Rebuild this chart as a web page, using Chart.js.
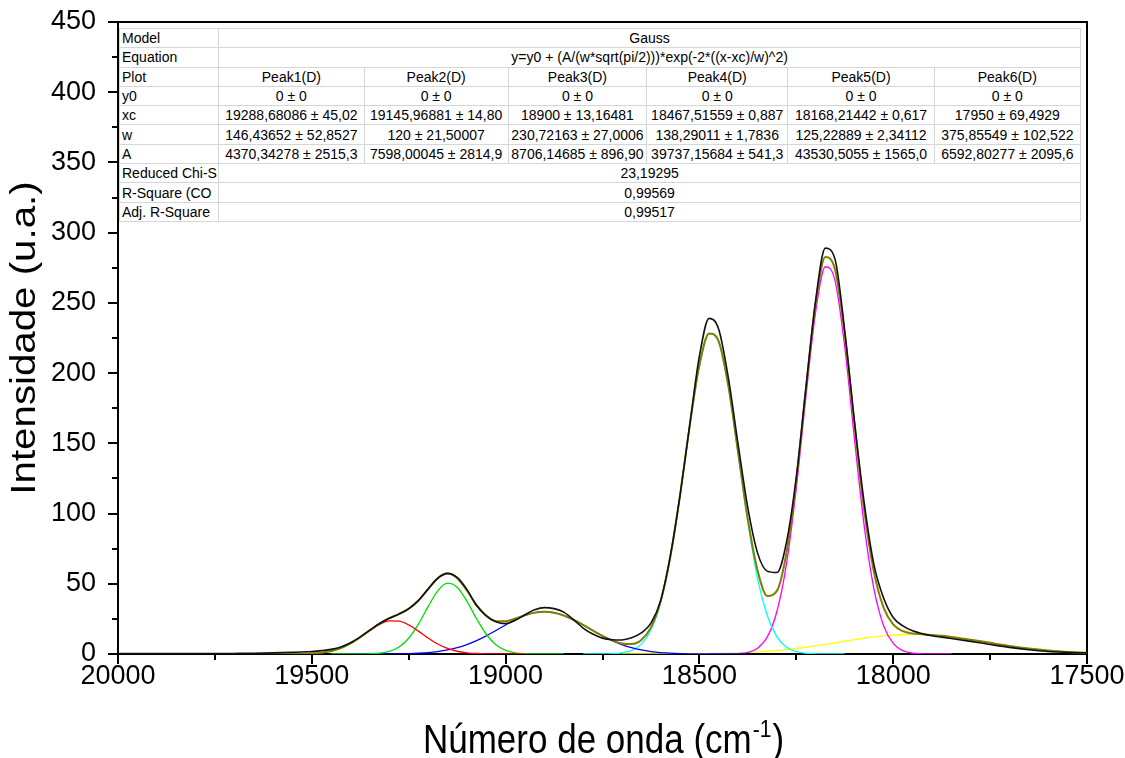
<!DOCTYPE html>
<html>
<head>
<meta charset="utf-8">
<script src="https://cdn.jsdelivr.net/npm/chart.js"></script>
<style>
  body { margin: 0; background: #fff; }
  #wrap { position: relative; width: 1125px; height: 758px; }
  #fitTable {
    position: absolute; left: 119px; top: 28px; width: 962px;
    border-collapse: collapse; table-layout: fixed; background: #fff;
    font: 14px "Liberation Sans", Arial, sans-serif; color: #000;
    border: 1px solid #707070;
  }
  #fitTable td {
    height: 18.3px; padding: 0 2px; line-height: 16px;
    border: 1px solid #d6d6d6; text-align: center;
    white-space: nowrap; overflow: hidden;
  }
  #fitTable td.lbl { text-align: left; }
</style>
</head>
<body>
<div id="wrap">
  <canvas id="gauss" width="1125" height="758"></canvas>
  <table id="fitTable">
    <colgroup>
      <col style="width:99px"><col style="width:145px"><col style="width:144px"><col style="width:138px">
      <col style="width:141px"><col style="width:146px"><col style="width:146px">
    </colgroup>
    <tbody></tbody>
  </table>
</div>
<script>
// eixo x (cm-1), mesma grade para todas as curvas
const wavenumber = [20000, 19900, 19800, 19700, 19650, 19600, 19550,
  19500, 19475, 19450, 19425, 19400, 19375, 19350, 19325, 19300, 19275,
  19250, 19225, 19200, 19175, 19150, 19125, 19100, 19075, 19050, 19025,
  19000, 18975, 18950, 18925, 18900, 18875, 18850, 18825, 18800, 18775,
  18750, 18725, 18700, 18675, 18650, 18625, 18600, 18575, 18550, 18525,
  18500, 18475, 18450, 18425, 18400, 18375, 18350, 18325, 18300, 18275,
  18250, 18225, 18200, 18175, 18150, 18125, 18100, 18075, 18050, 18025,
  18000, 17975, 17950, 17925, 17900, 17875, 17850,
  17800, 17750, 17700, 17650, 17600, 17550, 17500];

// dados experimentais (preto)
const dataExp = [0.3, 0.3, 0.3, 0.4, 0.5, 0.8, 1.2, 1.8, 2.4, 3.3,
  5.0, 8.0, 12.2, 17.0, 21.7, 25.4, 28.4, 32.2, 38.0, 46.2,
  54.0, 57.4, 54.5, 46.0, 34.5, 27.3, 23.0, 21.6, 24.0, 28.0,
  31.5, 33.0, 32.3, 29.8, 24.5, 18.5, 14.2, 11.3, 10.2, 10.0,
  11.5, 15.0, 22.0, 38.0, 70.0, 113.0, 163.0, 212.0, 239.0, 231.0,
  196.0, 149.0, 104.0, 72.0, 59.0, 58.0, 80.0, 126.0, 190.0, 252.0,
  289.0, 281.0, 230.0, 166.0, 108.0, 64.0, 40.0, 26.0, 20.0, 16.5,
  14.5, 13.0, 12.0, 11.0, 9.0, 6.8, 4.7, 3.0, 1.8, 1.2, 0.8];

// ajuste acumulado (oliva)
const fitCum = [0, 0, 0, 0, 0, 0, 0.04, 0.37, 0.94, 2.10,
  4.21, 7.51, 11.93, 16.94, 21.68, 25.47, 28.55, 32.25, 38.10, 46.13,
  53.83, 57.25, 53.97, 45.23, 34.97, 27.11, 23.40, 23.31, 25.24, 27.65,
  29.47, 30.12, 29.41, 27.41, 24.37, 20.68, 16.75, 12.98, 9.75, 7.50,
  7.04, 9.94, 18.92, 37.63, 69.13, 112.94, 162.58, 205.59, 228.24, 222.46,
  190.41, 143.42, 95.94, 59.63, 41.37, 44.93, 72.65, 123.70, 189.12, 249.73,
  282.59, 273.83, 227.65, 163.42, 102.80, 58.83, 33.22, 21.02, 16.25, 14.64,
  14.03, 13.54, 12.93, 12.15, 10.18, 7.95, 5.78, 3.92, 2.47, 1.45, 0.80];

// picos individuais (null = fora do trecho desenhado)
const peak1 = [null, null, null, null, 0, 0, 0.04, 0.37, 0.94, 2.10,
  4.21, 7.50, 11.89, 16.77, 21.06, 23.53, 23.40, 20.71, 16.31, 11.43,
  7.13, 3.96, 1.96, 0.86, 0.34, 0.12, 0.04, 0.01, 0, 0,
  null, null, null, null, null, null, null, null, null, null,
  null, null, null, null, null, null, null, null, null, null,
  null, null, null, null, null, null, null, null, null, null,
  null, null, null, null, null, null, null, null, null, null,
  null, null, null, null, null, null, null, null, null, null, null];

const peak2 = [null, null, null, null, null, null, null, null, null, 0,
  0, 0.01, 0.03, 0.16, 0.59, 1.87, 5.00, 11.24, 21.22, 33.68,
  44.94, 50.41, 47.52, 37.67, 25.10, 14.06, 6.62, 2.62, 0.87, 0.24,
  0.06, 0.01, 0, 0, null, null, null, null, null, null,
  null, null, null, null, null, null, null, null, null, null,
  null, null, null, null, null, null, null, null, null, null,
  null, null, null, null, null, null, null, null, null, null,
  null, null, null, null, null, null, null, null, null, null, null];

const peak3 = [null, null, null, null, null, null, null, null, null, null,
  null, 0, 0.01, 0.01, 0.03, 0.07, 0.15, 0.30, 0.57, 1.02,
  1.76, 2.88, 4.49, 6.70, 9.53, 12.93, 16.74, 20.68, 24.37, 27.41,
  29.41, 30.11, 29.41, 27.41, 24.37, 20.68, 16.74, 12.93, 9.53, 6.70,
  4.49, 2.88, 1.76, 1.02, 0.57, 0.30, 0.15, 0.07, 0.03, 0.01,
  0.01, 0, 0, null, null, null, null, null, null, null,
  null, null, null, null, null, null, null, null, null, null,
  null, null, null, null, null, null, null, null, null, null, null];

const peak4 = [null, null, null, null, null, null, null, null, null, null,
  null, null, null, null, null, null, null, null, null, null,
  null, null, null, null, null, null, null, null, null, null,
  null, null, null, null, null, 0, 0.01, 0.05, 0.22, 0.80,
  2.54, 7.05, 17.14, 36.57, 68.50, 112.55, 162.30, 205.33, 227.93, 222.03,
  189.77, 142.33, 93.66, 54.08, 27.40, 12.18, 4.75, 1.63, 0.49, 0.13,
  0.03, 0.01, 0, null, null, null, null, null, null, null,
  null, null, null, null, null, null, null, null, null, null, null];

const peak5 = [null, null, null, null, null, null, null, null, null, null,
  null, null, null, null, null, null, null, null, null, null,
  null, null, null, null, null, null, null, null, null, null,
  null, null, null, null, null, null, null, null, null, null,
  null, null, null, null, null, null, null, null, 0, 0.01,
  0.06, 0.29, 1.19, 4.10, 12.06, 30.28, 64.76, 118.15, 183.83, 243.82,
  275.72, 265.87, 218.58, 153.24, 91.58, 46.68, 20.29, 7.51, 2.37, 0.64,
  0.15, 0.03, 0, 0, null, null, null, null, null, null, null];

const peak6 = [null, null, null, null, null, null, null, null, null, null,
  null, null, null, null, null, null, null, null, null, null,
  null, null, null, null, null, null, null, null, null, null,
  null, null, null, null, null, null, null, null, null, 0,
  0.01, 0.01, 0.02, 0.04, 0.06, 0.09, 0.13, 0.19, 0.28, 0.41,
  0.57, 0.80, 1.09, 1.45, 1.91, 2.47, 3.14, 3.92, 4.80, 5.78,
  6.84, 7.95, 9.07, 10.18, 11.22, 12.15, 12.93, 13.51, 13.88, 14.00,
  13.88, 13.51, 12.93, 12.15, 10.18, 7.95, 5.78, 3.92, 2.47, 1.45, 0.80];

// ticks
const xMajor = [20000, 19500, 19000, 18500, 18000, 17500];
const xMinor = [19750, 19250, 18750, 18250, 17750];
const yMajor = [0, 50, 100, 150, 200, 250, 300, 350, 400, 450];
const yMinor = [25, 75, 125, 175, 225, 275, 325, 375, 425];

// tabela do ajuste
const peakNames = ['Peak1(D)', 'Peak2(D)', 'Peak3(D)', 'Peak4(D)', 'Peak5(D)', 'Peak6(D)'];
const y0Text = ['0 ± 0', '0 ± 0', '0 ± 0', '0 ± 0', '0 ± 0', '0 ± 0'];
const xcText = ['19288,68086 ± 45,02', '19145,96881 ± 14,80', '18900 ± 13,16481',
  '18467,51559 ± 0,887', '18168,21442 ± 0,617', '17950 ± 69,4929'];
const wText = ['146,43652 ± 52,8527', '120 ± 21,50007', '230,72163 ± 27,0006',
  '138,29011 ± 1,7836', '125,22889 ± 2,34112', '375,85549 ± 102,522'];
const aText = ['4370,34278 ± 2515,3', '7598,00045 ± 2814,9', '8706,14685 ± 896,90',
  '39737,15684 ± 541,3', '43530,5055 ± 1565,0', '6592,80277 ± 2095,6'];

const tableRows = [
  ['Model', 'Gauss'],
  ['Equation', 'y=y0 + (A/(w*sqrt(pi/2)))*exp(-2*((x-xc)/w)^2)'],
  ['Plot'].concat(peakNames),
  ['y0'].concat(y0Text),
  ['xc'].concat(xcText),
  ['w'].concat(wText),
  ['A'].concat(aText),
  ['Reduced Chi-S', '23,19295'],
  ['R-Square (CO', '0,99569'],
  ['Adj. R-Square', '0,99517']
];

const tbody = document.querySelector('#fitTable tbody');
tableRows.forEach(row => {
  const tr = document.createElement('tr');
  row.forEach((txt, i) => {
    const td = document.createElement('td');
    td.textContent = txt;
    if (i === 0) td.className = 'lbl';
    if (row.length === 2 && i === 1) td.colSpan = 6;
    tr.appendChild(td);
  });
  tbody.appendChild(tr);
});

const FONT = '"Liberation Sans", Arial, sans-serif';
Chart.defaults.font.family = FONT;
Chart.defaults.color = '#000';

const pts = arr => wavenumber.map((x, i) => ({ x: x, y: arr[i] }));

// moldura, ticks e títulos dos eixos
const frame = {
  id: 'frame',
  beforeDatasetsDraw(chart) {
    const { ctx, chartArea: a, scales: { x, y } } = chart;
    ctx.save();
    ctx.strokeStyle = '#000';
    ctx.lineWidth = 2;
    ctx.strokeRect(a.left, a.top, a.right - a.left, a.bottom - a.top);
    ctx.beginPath();
    xMajor.forEach(v => { const p = Math.round(x.getPixelForValue(v)); ctx.moveTo(p, a.bottom); ctx.lineTo(p, a.bottom + 10); });
    xMinor.forEach(v => { const p = Math.round(x.getPixelForValue(v)); ctx.moveTo(p, a.bottom); ctx.lineTo(p, a.bottom + 6); });
    yMajor.forEach(v => { const p = Math.round(y.getPixelForValue(v)); ctx.moveTo(a.left, p); ctx.lineTo(a.left - 10, p); });
    yMinor.forEach(v => { const p = Math.round(y.getPixelForValue(v)); ctx.moveTo(a.left, p); ctx.lineTo(a.left - 6, p); });
    ctx.stroke();
    ctx.restore();
  },
  afterDraw(chart) {
    const { ctx, chartArea: a } = chart;
    ctx.save();
    ctx.fillStyle = '#000';
    // eixo y
    ctx.translate(25, (a.top + a.bottom) / 2);
    ctx.rotate(-Math.PI / 2);
    ctx.scale(1.15, 1);
    ctx.font = '35px ' + FONT;
    ctx.textAlign = 'center';
    ctx.textBaseline = 'middle';
    ctx.fillText('Intensidade (u.a.)', 0, 0);
    ctx.restore();

    // eixo x com expoente
    ctx.save();
    ctx.fillStyle = '#000';
    const main1 = 'Número de onda (cm', sup = '-1', main2 = ')';
    ctx.font = '35px ' + FONT;
    const w1 = ctx.measureText(main1).width, w3 = ctx.measureText(main2).width;
    ctx.font = '21px ' + FONT;
    const w2 = ctx.measureText(sup).width;
    const x0 = (a.left + a.right) / 2 - (w1 + w2 + w3) / 2;
    const base = 753;
    ctx.translate(0, base);
    ctx.scale(1, 1.15);
    ctx.textBaseline = 'alphabetic';
    ctx.textAlign = 'left';
    ctx.font = '35px ' + FONT;
    ctx.fillText(main1, x0, 0);
    ctx.font = '21px ' + FONT;
    ctx.fillText(sup, x0 + w1 + 1, -14);
    ctx.font = '35px ' + FONT;
    ctx.fillText(main2, x0 + w1 + w2 + 2, 0);
    ctx.restore();
  }
};

const line = (label, arr, color, width) => ({
  label: label, data: pts(arr), borderColor: color, backgroundColor: color,
  borderWidth: width, pointRadius: 0, fill: false, spanGaps: false,
  cubicInterpolationMode: 'monotone'
});

new Chart(document.getElementById('gauss'), {
  type: 'line',
  data: {
    datasets: [
      line('Dados', dataExp, '#111111', 1.6),
      line('Ajuste', fitCum, '#808000', 2),
      line('Peak1', peak1, '#FF0000', 1.3),
      line('Peak2', peak2, '#00E000', 1.3),
      line('Peak3', peak3, '#0000FF', 1.3),
      line('Peak4', peak4, '#00FFFF', 1.3),
      line('Peak5', peak5, '#FF00FF', 1.3),
      line('Peak6', peak6, '#FFFF00', 1.3)
    ]
  },
  options: {
    responsive: false,
    animation: false,
    layout: { padding: { top: 22, right: 38, left: 0, bottom: 0 } },
    plugins: { legend: { display: false }, tooltip: { enabled: false } },
    scales: {
      x: {
        type: 'linear', reverse: true, min: 17500, max: 20000,
        afterFit: s => { s.height = 104; s.paddingLeft = 0; s.paddingRight = 0; },
        afterBuildTicks: s => { s.ticks = xMajor.map(v => ({ value: v })); },
        grid: { display: false, drawTicks: false, tickLength: 0 }, border: { display: false },
        ticks: { callback: v => String(v), font: { size: 27 }, color: '#000', padding: 6, maxRotation: 0, autoSkip: false }
      },
      y: {
        min: 0, max: 450,
        afterFit: s => { s.width = 118; s.paddingTop = 0; s.paddingBottom = 0; },
        afterBuildTicks: s => { s.ticks = yMajor.map(v => ({ value: v })); },
        grid: { display: false, drawTicks: false, tickLength: 0 }, border: { display: false },
        ticks: { font: { size: 27 }, color: '#000', padding: 22, autoSkip: false }
      }
    }
  },
  plugins: [frame]
});
</script>
</body>
</html>
